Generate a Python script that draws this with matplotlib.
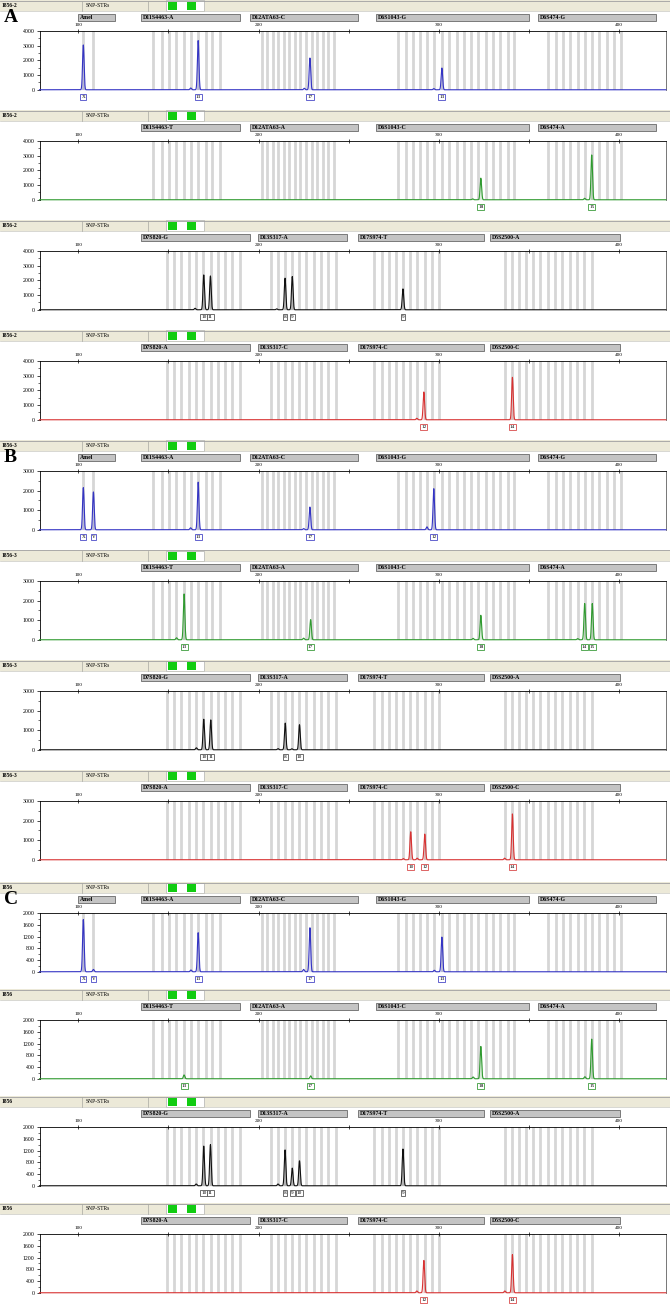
import numpy as np
import matplotlib.pyplot as plt
from matplotlib.patches import Rectangle
from matplotlib.transforms import blended_transform_factory

plt.rcParams['font.family'] = ['Liberation Serif', 'DejaVu Serif']

# ---- data -------------------------------------------------------------
samples = ['1856-2'] * 4 + ['1856-3'] * 4 + ['1856'] * 4
letters = ['A', '', '', '', 'B', '', '', '', 'C', '', '', '']
y_max = [4000] * 4 + [3000] * 4 + [2000] * 4
y_step = [1000] * 4 + [1000] * 4 + [400] * 4

# locus bars (name, start bp, end bp) for the four dye rows
loci_row1 = [('Amel', 100, 120.5), ('D11S4463-A', 134.9, 189.8), ('D12ATA63-C', 195.3, 255.1),
             ('D6S1043-G', 265.1, 349.9), ('D6S474-G', 354.8, 420.2)]
loci_row2 = [('D11S4463-T', 134.9, 189.8), ('D12ATA63-A', 195.3, 255.1),
             ('D6S1043-C', 265.1, 349.9), ('D6S474-A', 354.8, 420.2)]
loci_row3 = [('D7S820-G', 134.9, 195.3), ('D13S317-A', 199.7, 249.0),
             ('D17S974-T', 255.1, 324.9), ('D5S2500-A', 328.3, 400.3)]
loci_row4 = [('D7S820-A', 134.9, 195.3), ('D13S317-C', 199.7, 249.0),
             ('D17S974-C', 255.1, 324.9), ('D5S2500-C', 328.3, 400.3)]

# allele bins (bp)
bins_amel = [102.5, 108.3]
bins_d11 = [141.6, 146.5, 150.4, 154.3, 158.7, 162.6, 166.5, 170.9, 174.2, 178.7]
bins_d12 = [201.9, 204.7, 208.0, 210.8, 214.1, 216.9, 220.2, 223.0, 226.3, 229.6,
            232.4, 235.7, 238.5, 241.8]
bins_d6s1043 = [277.3, 281.7, 285.6, 289.5, 293.4, 297.2, 301.7, 305.5, 310.0, 313.9,
                317.7, 321.6, 326.0, 329.9, 333.8, 338.2, 341.6]
bins_d6s474 = [360.4, 364.8, 368.7, 372.6, 377.0, 380.9, 384.8, 388.6, 393.1, 396.9, 400.8]
bins_d7 = [149.3, 153.2, 157.1, 161.5, 165.4, 169.3, 173.7, 177.6, 181.4, 185.3, 189.8]
bins_d13 = [206.9, 210.8, 214.7, 218.6, 222.4, 226.3, 230.7, 234.6, 238.5, 242.9]
bins_d17 = [264.0, 268.4, 272.3, 276.2, 280.1, 283.9, 287.8, 292.2, 296.1, 300.0]
bins_d5 = [336.6, 340.4, 344.3, 348.2, 352.1, 356.0, 360.4, 364.3, 368.1, 372.6,
           376.5, 380.3, 384.8]

# called peaks (bp, RFU, allele) per panel
peaks_A1 = [(102.8, 3050, 'X'), (166.5, 3350, '13'), (228.5, 2160, '17'), (301.7, 1480, '13')]
peaks_A2 = [(323.3, 1470, '18'), (384.8, 3050, '15')]
peaks_A3 = [(169.6, 2370, '10'), (173.3, 2300, '11'), (214.7, 2150, '8'), (218.7, 2260, '9'),
            (280.1, 1420, '9')]
peaks_A4 = [(291.7, 1890, '12'), (340.8, 2890, '14')]
peaks_B1 = [(102.8, 2150, 'X'), (108.4, 1930, 'Y'), (166.5, 2430, '13'), (228.5, 1160, '17'),
            (297.2, 2100, '12')]
peaks_B2 = [(158.7, 2340, '13'), (228.9, 1030, '17'), (323.3, 1250, '18'), (380.9, 1850, '14'),
            (385.1, 1850, '15')]
peaks_B3 = [(169.6, 1560, '10'), (173.5, 1525, '11'), (214.8, 1360, '8'), (222.7, 1280, '10')]
peaks_B4 = [(284.4, 1430, '10'), (292.2, 1310, '12'), (340.8, 2340, '14')]
peaks_C1 = [(102.8, 1775, 'X'), (108.4, 80, 'Y'), (166.5, 1330, '13'), (228.5, 1500, '17'),
            (301.7, 1180, '13')]
peaks_C2 = [(158.7, 130, '13'), (228.9, 100, '17'), (323.3, 1100, '18'), (384.8, 1350, '15')]
peaks_C3 = [(169.6, 1350, '10'), (173.3, 1400, '11'), (214.7, 1220, '8'), (218.7, 600, '9'),
            (222.7, 850, '10'), (280.1, 1250, '9')]
peaks_C4 = [(291.7, 1100, '12'), (340.8, 1300, '14')]

# small stutter / artefact peaks (bp, RFU)
minor_A1 = [(162.4, 120), (225.4, 100), (297.2, 80)]
minor_A2 = [(318.8, 60), (380.9, 100)]
minor_A3 = [(164.8, 100), (210.1, 60)]
minor_A4 = [(287.8, 100)]
minor_B1 = [(162.3, 100), (225.0, 60), (293.4, 150)]
minor_B2 = [(154.5, 100), (225.0, 80), (319.0, 70), (377.0, 60)]
minor_B3 = [(165.5, 100), (210.8, 60), (218.5, 50)]
minor_B4 = [(280.3, 60), (288.0, 80), (336.5, 80)]
minor_C1 = [(162.5, 60), (225.0, 80), (297.5, 50)]
minor_C2 = [(319.0, 60), (381.0, 70)]
minor_C3 = [(165.4, 60), (210.8, 60)]
minor_C4 = [(287.8, 60), (336.6, 60)]

# ---- assembly ---------------------------------------------------------
row_loci = [loci_row1, loci_row2, loci_row3, loci_row4]
row_bins = [bins_amel + bins_d11 + bins_d12 + bins_d6s1043 + bins_d6s474,
            bins_d11 + bins_d12 + bins_d6s1043 + bins_d6s474,
            bins_d7 + bins_d13 + bins_d17 + bins_d5,
            bins_d7 + bins_d13 + bins_d17 + bins_d5]
all_peaks = [peaks_A1, peaks_A2, peaks_A3, peaks_A4, peaks_B1, peaks_B2, peaks_B3, peaks_B4,
             peaks_C1, peaks_C2, peaks_C3, peaks_C4]
all_minor = [minor_A1, minor_A2, minor_A3, minor_A4, minor_B1, minor_B2, minor_B3, minor_B4,
             minor_C1, minor_C2, minor_C3, minor_C4]
dye_colors = ['#3434c4', '#2f9a2f', '#111111', '#d83232']
box_colors = ['#4a4ac8', '#3c9c3c', '#555555', '#d84a4a']

W, H = 670, 1311
panel_tops = [0, 110, 220, 330, 440, 550, 660, 770, 882, 989, 1096, 1203]
ax_left, ax_right = 39.5, 666
x_lo, x_hi = 78.5, 426

fig = plt.figure(figsize=(W / 100, H / 100), dpi=100)
fig.patch.set_facecolor('white')


def fx(px):
    return px / W


def fy(py):
    return 1 - py / H


def header(top, name):
    # beige strip with the sample name and the two green status boxes
    fig.add_artist(Rectangle((0, fy(top + 11)), 1, 11 / H, transform=fig.transFigure,
                             facecolor='#ece9d8', edgecolor='none'))
    fig.add_artist(plt.Line2D([0, 1], [fy(top + 0.5), fy(top + 0.5)], transform=fig.transFigure,
                              color='#a0a0a0', lw=0.6))
    fig.add_artist(plt.Line2D([0, 1], [fy(top + 11), fy(top + 11)], transform=fig.transFigure,
                              color='#c8c8c0', lw=0.5))
    for sx in (82, 148):
        fig.add_artist(plt.Line2D([fx(sx), fx(sx)], [fy(top + 1), fy(top + 11)],
                                  transform=fig.transFigure, color='#a8a8a0', lw=0.5))
    fig.add_artist(Rectangle((fx(166), fy(top + 11)), 38 / W, 10.5 / H, transform=fig.transFigure,
                             facecolor='white', edgecolor='#b0b0b0', lw=0.5))
    for gx in (168, 187):
        fig.add_artist(Rectangle((fx(gx), fy(top + 9.5)), 8.5 / W, 7.5 / H,
                                 transform=fig.transFigure, facecolor='#11cc11', edgecolor='none'))
    fig.text(fx(2), fy(top + 5.5), name, fontsize=4, fontweight='bold', va='center', ha='left')
    fig.text(fx(86), fy(top + 5.5), 'SNP-STRs', fontsize=4, va='center', ha='left')


for i in range(12):
    row = i % 4
    top = panel_tops[i]
    header(top, samples[i])
    if letters[i]:
        fig.text(fx(4), fy(top + 17), letters[i], fontsize=14, fontweight='bold',
                 va='center', ha='left')

    ax_top, ax_bot = top + 31, top + 90
    ax = fig.add_axes([fx(ax_left), fy(ax_bot), (ax_right - ax_left) / W, (ax_bot - ax_top) / H])
    ymax = y_max[i]
    ax.set_xlim(x_lo, x_hi)
    ax.set_ylim(-ymax * 0.004, ymax)

    # bins
    for b in row_bins[i % 4]:
        ax.axvline(b, color='#d6d6d6', lw=2.0, zorder=1)

    # trace built from peak list
    xs = np.arange(x_lo, x_hi, 0.02)
    ys = np.zeros_like(xs)
    for pos, h, _ in all_peaks[i]:
        ys += h * np.exp(-0.5 * ((xs - pos) / 0.42) ** 2)
    for pos, h in all_minor[i]:
        ys += h * np.exp(-0.5 * ((xs - pos) / 0.42) ** 2)
    col = dye_colors[row]
    ax.fill_between(xs, 0, ys, color=col, alpha=0.18, lw=0, zorder=2)
    ax.plot(xs, ys, color=col, lw=0.8, zorder=3, clip_on=False)

    # allele labels
    for pos, h, lab in all_peaks[i]:
        ax.annotate(lab, xy=(pos, 0), xycoords=('data', 'axes fraction'), xytext=(0, -5.2),
                    textcoords='offset points', ha='center', va='center', fontsize=3.8,
                    bbox=dict(boxstyle='square,pad=0.18', fc='white', ec=box_colors[row], lw=0.6))

    # locus bars above the plot
    tr = blended_transform_factory(ax.transData, ax.transAxes)
    hgt = ax_bot - ax_top
    for name, s, e in row_loci[row]:
        ax.add_patch(Rectangle((s, 1 + 10 / hgt), e - s, 7 / hgt, transform=tr, clip_on=False,
                               facecolor='#c4c4c4', edgecolor='#505050', lw=0.5))
        ax.text(s + 1.2, 1 + 13.5 / hgt, name, transform=tr, fontsize=4.2, fontweight='bold',
                va='center', ha='left')

    # axes styling
    ax.spines['bottom'].set_visible(False)
    for sp in ('top', 'left', 'right'):
        ax.spines[sp].set_linewidth(0.6)
    ax.spines['right'].set_color('#606060')
    ax.xaxis.tick_top()
    ax.set_xticks([100, 200, 300, 400])
    ax.set_xticks([150, 250, 350], minor=True)
    ax.tick_params(axis='x', which='both', direction='inout', length=3, width=0.5,
                   labelsize=3.8, pad=1.5)
    ax.set_yticks(np.arange(0, ymax + 1, y_step[i]))
    ax.set_yticks(np.arange(y_step[i] / 2, ymax, y_step[i]), minor=True)
    ax.tick_params(axis='y', which='major', length=2.5, width=0.5, labelsize=4.2, pad=1)
    ax.tick_params(axis='y', which='minor', length=1.5, width=0.4)
    ax.tick_params(axis='y', which='both', right=False)
    ax.set_facecolor('white')

fig.savefig('out.png', dpi=100)
